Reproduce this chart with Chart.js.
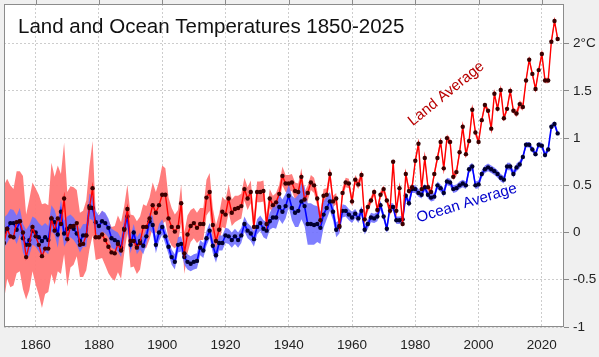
<!DOCTYPE html>
<html>
<head>
<meta charset="utf-8">
<script src="https://cdn.jsdelivr.net/npm/chart.js@4.4.1/dist/chart.umd.min.js"></script>
<style>
  html, body { margin: 0; padding: 0; background: #f0f0f0; }
  #wrap { position: relative; width: 599px; height: 357px; }
</style>
</head>
<body>
<div id="wrap"><canvas id="temps"></canvas></div>
<script>
// annual anomalies (deg C), 1850..2025
var firstYear = 1850;
var landAvg = [
  -0.11, 0.04, -0.04, -0.05, 0.11, 0.12, 0.00, -0.26, -0.13, 0.06,
  -0.04, -0.13, -0.25, -0.17, -0.17, 0.15, 0.02, 0.15, 0.09, 0.36,
  -0.07, 0.06, 0.07, 0.10, -0.13, -0.12, -0.03, 0.26, 0.47, -0.05,
  -0.05, -0.02, -0.08, -0.15, -0.21, -0.22, -0.12, -0.19, 0.03, 0.25,
  -0.09, -0.09, -0.16, -0.11, 0.06, 0.06, 0.15, 0.29, 0.21, 0.29,
  0.40, 0.40, 0.15, 0.06, 0.01, 0.06, 0.31, -0.22, -0.02, 0.07,
  0.10, 0.05, 0.09, 0.09, 0.37, 0.43, 0.08, -0.09, 0.03, 0.22,
  0.19, 0.36, 0.21, 0.25, 0.26, 0.28, 0.46, 0.36, 0.43, 0.06,
  0.43, 0.43, 0.44, 0.09, 0.36, 0.29, 0.32, 0.41, 0.60, 0.52,
  0.52, 0.53, 0.44, 0.43, 0.59, 0.35, 0.42, 0.53, 0.50, 0.36,
  0.13, 0.39, 0.40, 0.62, 0.33, 0.36, 0.07, 0.42, 0.53, 0.52,
  0.33, 0.56, 0.51, 0.61, 0.14, 0.27, 0.34, 0.43, 0.24, 0.40,
  0.46, 0.34, 0.23, 0.75, 0.23, 0.47, 0.09, 0.62, 0.44, 0.48,
  0.76, 0.94, 0.46, 0.79, 0.48, 0.43, 0.62, 0.79, 0.96, 0.68,
  1.00, 0.96, 0.59, 0.64, 0.85, 1.12, 0.83, 0.97, 1.30, 1.06,
  0.96, 1.19, 1.35, 1.29, 1.10, 1.47, 1.31, 1.51, 1.21, 1.31,
  1.50, 1.29, 1.26, 1.36, 1.33, 1.61, 1.83, 1.68, 1.52, 1.72,
  1.89, 1.61, 1.61, 2.02, 2.24, 2.05
];
var landUnc = [
  0.61, 0.53, 0.54, 0.51, 0.54, 0.53, 0.60, 0.45, 0.48, 0.47,
  0.51, 0.53, 0.55, 0.48, 0.46, 0.59, 0.57, 0.56, 0.53, 0.59,
  0.50, 0.43, 0.41, 0.35, 0.34, 0.35, 0.37, 0.44, 0.50, 0.24,
  0.23, 0.25, 0.27, 0.28, 0.27, 0.29, 0.30, 0.30, 0.25, 0.26,
  0.28, 0.27, 0.28, 0.28, 0.24, 0.22, 0.22, 0.24, 0.22, 0.25,
  0.31, 0.28, 0.22, 0.20, 0.18, 0.18, 0.20, 0.22, 0.20, 0.17,
  0.16, 0.16, 0.17, 0.17, 0.19, 0.20, 0.18, 0.17, 0.17, 0.16,
  0.15, 0.15, 0.14, 0.14, 0.13, 0.13, 0.12, 0.12, 0.12, 0.11,
  0.11, 0.11, 0.11, 0.10, 0.10, 0.10, 0.10, 0.10, 0.10, 0.09,
  0.09, 0.09, 0.09, 0.09, 0.09, 0.08, 0.08, 0.08, 0.08, 0.08,
  0.07, 0.07, 0.07, 0.07, 0.06, 0.06, 0.06, 0.06, 0.05, 0.05,
  0.05, 0.05, 0.05, 0.05, 0.05, 0.05, 0.04, 0.04, 0.04, 0.04,
  0.04, 0.04, 0.04, 0.04, 0.04, 0.04, 0.04, 0.04, 0.04, 0.04,
  0.04, 0.04, 0.04, 0.04, 0.04, 0.04, 0.04, 0.04, 0.04, 0.04,
  0.04, 0.04, 0.04, 0.04, 0.04, 0.04, 0.04, 0.04, 0.04, 0.04,
  0.03, 0.03, 0.03, 0.03, 0.03, 0.03, 0.03, 0.03, 0.03, 0.03,
  0.03, 0.03, 0.04, 0.04, 0.04, 0.03, 0.03, 0.03, 0.03, 0.03,
  0.03, 0.03, 0.03, 0.03, 0.03, 0.03
];
var oceanAvg = [
  0.00, 0.04, 0.10, 0.10, 0.03, 0.12, -0.06, -0.13, -0.08, 0.02,
  0.00, -0.05, -0.09, -0.05, -0.08, 0.15, 0.11, -0.02, 0.22, -0.01,
  0.04, 0.07, 0.04, -0.01, -0.09, -0.03, -0.03, 0.28, 0.26, 0.11,
  0.07, 0.12, 0.10, 0.05, -0.06, -0.08, -0.10, -0.16, 0.04, 0.17,
  -0.13, 0.00, -0.14, -0.09, -0.14, -0.04, 0.12, 0.08, -0.13, 0.00,
  0.06, -0.04, -0.15, -0.26, -0.31, -0.13, -0.12, -0.26, -0.31, -0.33,
  -0.31, -0.30, -0.16, -0.19, -0.06, 0.02, -0.14, -0.24, -0.11, -0.11,
  -0.03, -0.04, -0.08, -0.04, -0.08, -0.03, 0.09, 0.02, -0.01, -0.07,
  0.06, 0.10, 0.04, 0.02, 0.12, 0.16, 0.16, 0.27, 0.22, 0.28,
  0.39, 0.26, 0.21, 0.23, 0.33, 0.28, 0.09, 0.09, 0.08, 0.09,
  0.05, 0.19, 0.26, 0.33, 0.22, 0.03, 0.06, 0.23, 0.23, 0.19,
  0.16, 0.20, 0.15, 0.23, 0.03, 0.09, 0.16, 0.15, 0.17, 0.29,
  0.17, 0.04, 0.27, 0.27, 0.13, 0.13, 0.14, 0.39, 0.31, 0.46,
  0.46, 0.42, 0.40, 0.48, 0.40, 0.37, 0.38, 0.50, 0.47, 0.42,
  0.54, 0.53, 0.46, 0.47, 0.50, 0.52, 0.50, 0.67, 0.70, 0.50,
  0.51, 0.62, 0.67, 0.69, 0.67, 0.65, 0.62, 0.58, 0.56, 0.70,
  0.70, 0.62, 0.69, 0.72, 0.80, 0.93, 0.93, 0.88, 0.83, 0.93,
  0.92, 0.82, 0.88, 1.12, 1.15, 1.05
];
var oceanUnc = [
  0.16, 0.15, 0.15, 0.14, 0.15, 0.14, 0.15, 0.16, 0.16, 0.15,
  0.15, 0.15, 0.16, 0.15, 0.15, 0.14, 0.13, 0.14, 0.13, 0.14,
  0.13, 0.12, 0.12, 0.12, 0.12, 0.12, 0.12, 0.13, 0.13, 0.12,
  0.11, 0.11, 0.11, 0.10, 0.10, 0.10, 0.10, 0.10, 0.10, 0.10,
  0.09, 0.09, 0.09, 0.09, 0.09, 0.09, 0.09, 0.09, 0.09, 0.09,
  0.08, 0.08, 0.08, 0.08, 0.08, 0.08, 0.08, 0.08, 0.08, 0.08,
  0.08, 0.08, 0.08, 0.08, 0.08, 0.08, 0.08, 0.08, 0.08, 0.08,
  0.08, 0.08, 0.08, 0.08, 0.08, 0.08, 0.08, 0.08, 0.08, 0.08,
  0.08, 0.08, 0.09, 0.09, 0.09, 0.11, 0.12, 0.13, 0.13, 0.13,
  0.12, 0.13, 0.15, 0.17, 0.19, 0.21, 0.22, 0.22, 0.21, 0.19,
  0.17, 0.14, 0.12, 0.10, 0.09, 0.08, 0.07, 0.07, 0.06, 0.06,
  0.06, 0.05, 0.05, 0.05, 0.05, 0.05, 0.05, 0.05, 0.05, 0.05,
  0.04, 0.04, 0.04, 0.04, 0.04, 0.04, 0.04, 0.04, 0.04, 0.04,
  0.04, 0.04, 0.04, 0.04, 0.04, 0.04, 0.04, 0.04, 0.04, 0.04,
  0.04, 0.04, 0.04, 0.04, 0.04, 0.04, 0.04, 0.04, 0.04, 0.04,
  0.04, 0.04, 0.04, 0.04, 0.04, 0.04, 0.04, 0.04, 0.04, 0.04,
  0.04, 0.04, 0.04, 0.04, 0.03, 0.03, 0.03, 0.03, 0.03, 0.03,
  0.03, 0.03, 0.03, 0.03, 0.03, 0.03
];
var xTickValues = [1860, 1880, 1900, 1920, 1940, 1960, 1980, 2000, 2020];
var yTickValues = [-1, -0.5, 0, 0.5, 1, 1.5, 2];
var yTickLabels = ['-1', '-0.5', '0', '0.5', '1', '1.5', '2°C'];

var FONT = '"Liberation Sans", Arial, sans-serif';

var years = landAvg.map(function(v, i) { return firstYear + i; });
function series(vals, unc, k) {
  return vals.map(function(v, i) {
    return {x: years[i], y: unc ? v + k * unc[i] : v};
  });
}

var frame = {
  id: 'frame',
  beforeDraw: function(chart) {
    var a = chart.chartArea, ctx = chart.ctx;
    ctx.save();
    ctx.fillStyle = '#f0f0f0';
    ctx.fillRect(0, 0, chart.width, chart.height);
    ctx.fillStyle = '#ffffff';
    ctx.fillRect(a.left, a.top, a.right - a.left, a.bottom - a.top);
    ctx.restore();
  },
  afterDraw: function(chart) {
    var a = chart.chartArea, ctx = chart.ctx;
    var xs = chart.scales.x, ys = chart.scales.y;
    ctx.save();
    ctx.strokeStyle = '#8c8c8c';
    ctx.lineWidth = 1;
    ctx.strokeRect(a.left + 0.5, a.top + 0.5, a.right - a.left - 1, a.bottom - a.top - 1);
    // little ticks above the top edge
    ctx.beginPath();
    xTickValues.forEach(function(v) {
      var px = Math.round(xs.getPixelForValue(v)) + 0.5;
      ctx.moveTo(px, 0);
      ctx.lineTo(px, a.top);
    });
    ctx.stroke();

    ctx.fillStyle = '#111';
    ctx.font = '20.5px ' + FONT;
    ctx.textBaseline = 'alphabetic';
    ctx.fillText('Land and Ocean Temperatures 1850-2025', a.left + 14, a.top + 29);

    ctx.font = '15px ' + FONT;
    ctx.textAlign = 'center';
    ctx.textBaseline = 'middle';
    ctx.save();
    ctx.translate(xs.getPixelForValue(1989.8), ys.getPixelForValue(1.47));
    ctx.rotate(-39 * Math.PI / 180);
    ctx.fillStyle = '#b80000';
    ctx.fillText('Land Average', 0, 0);
    ctx.restore();
    ctx.save();
    ctx.translate(xs.getPixelForValue(1996.3), ys.getPixelForValue(0.31));
    ctx.rotate(-17 * Math.PI / 180);
    ctx.fillStyle = '#0000cc';
    ctx.fillText('Ocean Average', 0, 0);
    ctx.restore();
    ctx.restore();
  }
};

var band = {borderWidth: 0, pointRadius: 0, tension: 0};

new Chart('temps', {
  type: 'line',
  data: {
    datasets: [
      {
        label: 'Land Average',
        data: series(landAvg),
        borderColor: '#ff0000',
        borderWidth: 1.4,
        pointRadius: 2.2,
        pointBackgroundColor: '#3a0000',
        pointBorderWidth: 0,
        tension: 0,
        fill: false
      },
      {
        label: 'Ocean Average',
        data: series(oceanAvg),
        borderColor: '#0000ff',
        borderWidth: 1.6,
        pointRadius: 2.2,
        pointBackgroundColor: '#000030',
        pointBorderWidth: 0,
        tension: 0,
        fill: false
      },
      Object.assign({data: series(oceanAvg, oceanUnc, 1), backgroundColor: 'rgba(112,112,255,0.9)', fill: '+1'}, band),
      Object.assign({data: series(oceanAvg, oceanUnc, -1), fill: false}, band),
      Object.assign({data: series(landAvg, landUnc, 1), backgroundColor: 'rgba(255,118,118,0.95)', fill: '+1'}, band),
      Object.assign({data: series(landAvg, landUnc, -1), fill: false}, band)
    ]
  },
  options: {
    responsive: true,
    maintainAspectRatio: false,
    animation: false,
    layout: {padding: {left: 3, top: 4, right: 0, bottom: 0}},
    plugins: {legend: {display: false}, tooltip: {enabled: false}},
    scales: {
      x: {
        type: 'linear',
        min: 1850,
        max: 2027,
        afterBuildTicks: function(s) { s.ticks = xTickValues.map(function(v) { return {value: v}; }); },
        afterFit: function(s) { s.height = 30; s.paddingLeft = 0; s.paddingRight = 0; },
        grid: {color: '#cdcdcd', drawTicks: false},
        border: {display: false, dash: [2, 2]},
        ticks: {padding: 10, color: '#222', font: {family: FONT, size: 13.5}, maxRotation: 0,
          callback: function(v) { return String(v); }}
      },
      y: {
        position: 'right',
        min: -1,
        max: 2.42,
        afterBuildTicks: function(s) { s.ticks = yTickValues.map(function(v) { return {value: v}; }); },
        afterFit: function(s) { s.width = 35; s.paddingTop = 0; s.paddingBottom = 0; },
        grid: {color: '#cdcdcd', tickLength: 5, tickColor: '#888', tickBorderDash: []},
        border: {display: false, dash: [2, 2]},
        ticks: {padding: 4, color: '#222', font: {family: FONT, size: 13.5},
          callback: function(v) { return yTickLabels[yTickValues.indexOf(v)]; }}
      }
    }
  },
  plugins: [frame]
});
</script>
</body>
</html>
